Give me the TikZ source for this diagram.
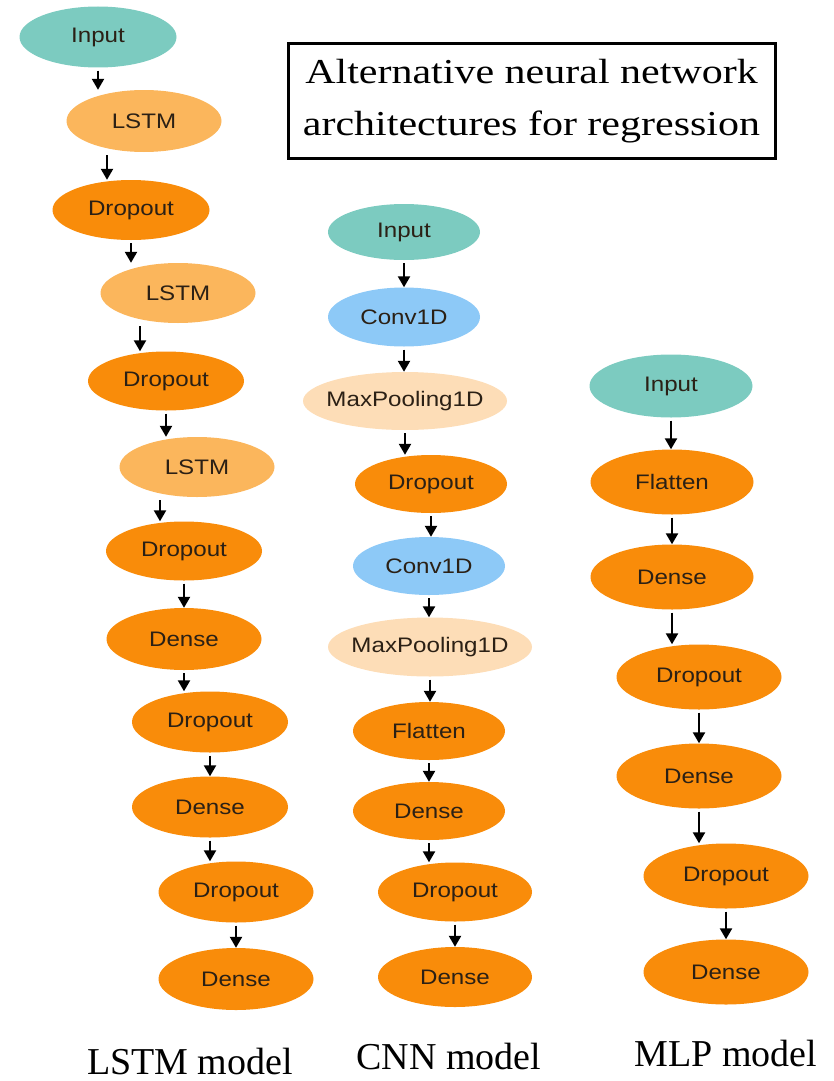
\documentclass[tikz,border=0pt]{standalone}
\usepackage{fontspec}
\usetikzlibrary{shapes.geometric,arrows.meta}
\newfontfamily\layerfont[FakeStretch=1.15]{Liberation Sans}
\newfontfamily\headfont[FakeStretch=1.2]{Liberation Serif}
\newfontfamily\captionfont{Liberation Serif}

\definecolor{inputc}{HTML}{7CCBC0}
\definecolor{lstmc}{HTML}{FBB65C}
\definecolor{layerc}{HTML}{F98C0A}
\definecolor{convc}{HTML}{8DC9F7}
\definecolor{poolc}{HTML}{FDDDB7}
\definecolor{labelc}{HTML}{2B2015}

\tikzset{
  layer/.style n args={2}{ellipse, inner xsep=-30pt, inner ysep=0pt,
    minimum width=#1, minimum height=#2, text=labelc,
    font=\layerfont\fontsize{21}{25}\selectfont},
  inlayer/.style={fill=inputc},
  lstmlayer/.style={fill=lstmc},
  stdlayer/.style={fill=layerc},
  convlayer/.style={fill=convc},
  poollayer/.style={fill=poolc},
  arr/.style={line width=2.3pt, -{Triangle[width=12pt,length=11pt]}},
  modelcap/.style={anchor=base, inner sep=0pt,
    font=\captionfont\fontsize{38}{44}\selectfont},
}

% vertical link below node #2 (shifted by #1) down to node #3
\newcommand\link[3][0]{%
  \draw[arr] (#2.south) ++(#1,3) coordinate (s) -- (s |- #3.north);}

\begin{document}
\begin{tikzpicture}[x=1pt, y=-1pt]
\useasboundingbox (0,0) rectangle (833,1081);

% title
\node[draw, line width=3pt, minimum width=487, minimum height=114,
      align=center, font=\headfont\fontsize{35}{52}\selectfont]
  (title) at (531.5,101) {Alternative neural network\\architectures for regression};

% LSTM model
\node[layer={157}{61}, inlayer]   (iL) at (98,37)  {Input};
\node[layer={155}{62}, lstmlayer] (l1) at (144,121) {LSTM};
\node[layer={157}{60}, stdlayer]  (d1) at (131,210) {Dropout};
\node[layer={155}{60}, lstmlayer] (l2) at (178,293) {LSTM};
\node[layer={156}{59}, stdlayer]  (d2) at (166,381) {Dropout};
\node[layer={155}{60}, lstmlayer] (l3) at (197,467) {LSTM};
\node[layer={156}{59}, stdlayer]  (d3) at (184,551) {Dropout};
\node[layer={155}{62}, stdlayer]  (e1) at (184,639) {Dense};
\node[layer={156}{61}, stdlayer]  (d4) at (210,722) {Dropout};
\node[layer={156}{61}, stdlayer]  (e2) at (210,807) {Dense};
\node[layer={155}{61}, stdlayer]  (d5) at (236,892) {Dropout};
\node[layer={155}{62}, stdlayer]  (e3) at (236,979) {Dense};

\link{iL}{l1}
\link[-37]{l1}{d1}
\link{d1}{l2}
\link[-38]{l2}{d2}
\link{d2}{l3}
\link[-37]{l3}{d3}
\link{d3}{e1}
\link{e1}{d4}
\link{d4}{e2}
\link{e2}{d5}
\link{d5}{e3}

% CNN model
\node[layer={152}{56}, inlayer]   (iC)  at (404,232) {Input};
\node[layer={152}{59}, convlayer] (c1)  at (404,317) {Conv1D};
\node[layer={204}{58}, poollayer] (m1)  at (405,401) {MaxPooling1D};
\node[layer={152}{58}, stdlayer]  (cd1) at (431,484) {Dropout};
\node[layer={152}{58}, convlayer] (c2)  at (429,566) {Conv1D};
\node[layer={204}{59}, poollayer] (m2)  at (430,647) {MaxPooling1D};
\node[layer={152}{58}, stdlayer]  (fl)  at (429,731) {Flatten};
\node[layer={152}{58}, stdlayer]  (ce1) at (429,811) {Dense};
\node[layer={154}{59}, stdlayer]  (cd2) at (455,892) {Dropout};
\node[layer={154}{60}, stdlayer]  (ce2) at (455,977) {Dense};

\link{iC}{c1}
\link{c1}{m1}
\link{m1}{cd1}
\link{cd1}{c2}
\link{c2}{m2}
\link{m2}{fl}
\link{fl}{ce1}
\link{ce1}{cd2}
\link{cd2}{ce2}

% MLP model
\node[layer={163}{63}, inlayer]  (iM)  at (671,386) {Input};
\node[layer={163}{65}, stdlayer] (mf)  at (672,482) {Flatten};
\node[layer={163}{65}, stdlayer] (me1) at (672,577) {Dense};
\node[layer={165}{65}, stdlayer] (md1) at (699,677) {Dropout};
\node[layer={165}{65}, stdlayer] (me2) at (699,776) {Dense};
\node[layer={165}{65}, stdlayer] (md2) at (726,876) {Dropout};
\node[layer={165}{65}, stdlayer] (me3) at (726,972) {Dense};

\link{iM}{mf}
\link{mf}{me1}
\link{me1}{md1}
\link{md1}{me2}
\link{me2}{md2}
\link{md2}{me3}

% model captions
\node[modelcap] (capL) at (190,1074) {LSTM model};
\node[modelcap] (capC) at (449,1069) {CNN model};
\node[modelcap] (capM) at (726,1066) {MLP model};
\end{tikzpicture}
\end{document}
